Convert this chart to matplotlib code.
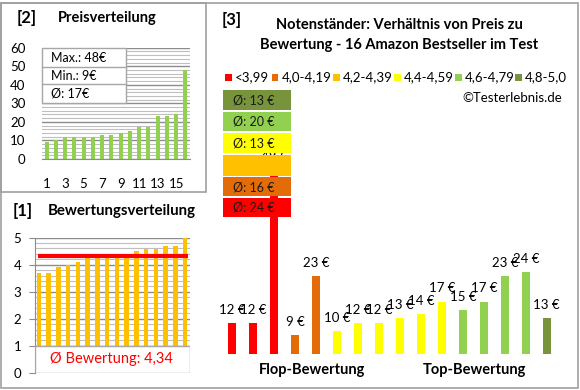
import matplotlib.pyplot as plt
from matplotlib.patches import Rectangle
import numpy as np

plt.rcParams['font.family'] = ['Lato', 'DejaVu Sans']

W, H = 580, 390

# panel [2] - sorted prices
prices_sorted = [9, 10, 12, 12, 12, 12, 13, 13, 14, 15, 17, 17, 23, 23, 24, 48]
price_stats = ['Max.: 48€', 'Min.: 9€', 'Ø: 17€']

# panel [1] - sorted ratings
ratings_sorted = [3.7, 3.7, 3.9, 4.0, 4.1, 4.3, 4.3, 4.3, 4.3, 4.3, 4.5, 4.6, 4.6, 4.7, 4.7, 5.0]
rating_mean = 4.34

# panel [3] - prices ordered flop -> top
prices = [12, 12, 48, 9, 23, 10, 12, 12, 13, 14, 17, 15, 17, 23, 24, 13]
groups = [0, 0, 0, 1, 1, 3, 3, 3, 3, 3, 3, 4, 4, 4, 4, 5]
group_names = ['<3,99', '4,0-4,19', '4,2-4,39', '4,4-4,59', '4,6-4,79', '4,8-5,0']
group_colors = ['#FF0000', '#E36C09', '#FFC000', '#FFFF00', '#92D050', '#77933C']
group_avg = ['Ø: 24 €', 'Ø: 16 €', '', 'Ø: 13 €', 'Ø: 20 €', 'Ø: 13 €']


def px(x0, y0, x1, y1):
    return [x0 / W, 1 - y1 / H, (x1 - x0) / W, (y1 - y0) / H]


def ftext(x, y, s, **kw):
    fig.text(x / W, 1 - y / H, s, **kw)


def frect(x0, y0, x1, y1, **kw):
    r = Rectangle((x0 / W, 1 - y1 / H), (x1 - x0) / W, (y1 - y0) / H,
                  transform=fig.transFigure, **kw)
    fig.add_artist(r)


fig = plt.figure(figsize=(5.8, 3.9), dpi=100)

# panel frames
border = '#A0A0A0'
frect(1, 3, 578, 388, fill=False, edgecolor=border, lw=1.2, zorder=10)
frect(1, 3, 206, 192, fill=False, edgecolor=border, lw=1.2, zorder=10)

# ---------- [2] Preisverteilung ----------
ax2 = fig.add_axes(px(42, 47.7, 190, 159))
x = np.arange(1, 17)
ax2.bar(x, prices_sorted, width=0.45, color='#92D050', zorder=3)
ax2.set_xlim(0.5, 16.5)
ax2.set_ylim(0, 60)
ax2.set_yticks(range(0, 61, 10))
ax2.set_yticks(range(0, 61, 2), minor=True)
ax2.set_xticks(range(1, 17, 2))
ax2.grid(axis='y', which='major', color='#8C8C8C', lw=1.0, zorder=1)
ax2.grid(axis='y', which='minor', color='#BFBFBF', lw=0.8, zorder=1)
ax2.tick_params(axis='both', which='both', length=0, labelsize=9.5)
ax2.tick_params(axis='y', pad=12)
ax2.tick_params(axis='x', pad=14)
for s in ['top', 'right', 'left']:
    ax2.spines[s].set_visible(False)
ax2.spines['bottom'].set_color('#8C8C8C')

# stats box
frect(42, 48, 126, 103, facecolor='white', edgecolor='#A6A6A6', lw=1, zorder=5)
for yy in [67, 84]:
    fig.add_artist(plt.Line2D([42 / W, 126 / W], [1 - yy / H, 1 - yy / H],
                              color='#A6A6A6', lw=1, zorder=6))
for s, yy in zip(price_stats, [57.5, 75.5, 93.5]):
    ftext(51, yy, s, fontsize=9, va='center', ha='left', zorder=7)

ftext(17, 18, '[2]', fontsize=12, fontweight='bold', va='center')
ftext(58, 18, 'Preisverteilung', fontsize=10.5, fontweight='bold', va='center')

# ---------- [1] Bewertungsverteilung ----------
ax1 = fig.add_axes(px(35, 237.7, 190, 372.7))
ax1.bar(x, ratings_sorted, width=0.45, color='#FFC000', zorder=3)
ax1.plot([0.95, 16.25], [rating_mean, rating_mean], color='#FF0000', lw=3, zorder=4,
         solid_capstyle='butt')
ax1.set_xlim(0.6, 16.5)
ax1.set_ylim(0, 5)
ax1.set_yticks(range(0, 6))
ax1.set_yticks(np.arange(0, 5.01, 0.2), minor=True)
ax1.set_xticks([])
ax1.grid(axis='y', which='major', color='#8C8C8C', lw=1.0, zorder=1)
ax1.grid(axis='y', which='minor', color='#BFBFBF', lw=0.8, zorder=1)
ax1.tick_params(axis='y', which='major', length=4, color='#8C8C8C', labelsize=9.5, pad=6)
ax1.tick_params(axis='y', which='minor', length=0)
for s in ['top', 'right', 'bottom']:
    ax1.spines[s].set_visible(False)
ax1.spines['left'].set_color('#8C8C8C')
ax1.add_patch(Rectangle((0.6, 0), 15.9, 1, facecolor='white', edgecolor='#A6A6A6',
                        lw=1, zorder=5))
ax1.text(8.4, 0.5, 'Ø Bewertung: 4,34', color='#FF0000', fontsize=10.5,
         ha='center', va='center', zorder=6)

ftext(13, 211, '[1]', fontsize=12, fontweight='bold', va='center')
ftext(48, 211, 'Bewertungsverteilung', fontsize=10.8, fontweight='bold', va='center')

# ---------- [3] Preis zu Bewertung ----------
ax3 = fig.add_axes(px(221.5, 150, 557.2, 354))
cols = [group_colors[g] for g in groups]
ax3.bar(x, prices, width=0.38, color=cols, zorder=3)
ax3.set_xlim(0.5, 16.5)
ax3.set_ylim(4.63, 52.7)
ax3.axis('off')
for xi, p in zip(x, prices):
    ax3.annotate(f'{p} €', (xi, p), xytext=(0, 9.5), textcoords='offset points',
                 ha='center', va='center', fontsize=9.5, annotation_clip=False)

ftext(222, 20, '[3]', fontsize=12, fontweight='bold', va='center')
ftext(399, 25, 'Notenständer: Verhältnis von Preis zu', fontsize=10.5,
      fontweight='bold', ha='center', va='center')
ftext(399, 45, 'Bewertung - 16 Amazon Bestseller im Test', fontsize=10.5,
      fontweight='bold', ha='center', va='center')

# legend
sq_x = [225, 271.7, 333, 394, 455, 515]
for name, c, sx in zip(group_names, group_colors, sq_x):
    frect(sx, 74, sx + 6.7, 80.7, facecolor=c, edgecolor='none', zorder=5)
    ftext(sx + 10, 77.5, name, fontsize=9.5, va='center', ha='left')

ftext(562, 98, '©Testerlebnis.de', fontsize=9.5, va='center', ha='right')

# average boxes
box_rows = [(197.7, 217.3), (177.3, 196), (155, 175.7), (132.7, 152.7), (112, 131), (90, 110)]
for (y0, y1), c, t in zip(box_rows, group_colors, group_avg):
    frect(223, y0, 291, y1, facecolor=c, edgecolor='none', zorder=5)
    ftext(233, (y0 + y1) / 2 + 0.5, t, fontsize=9, va='center', ha='left',
          color='#1A1A1A', zorder=6)

ftext(312, 370, 'Flop-Bewertung', fontsize=10.5, fontweight='bold', ha='center', va='center')
ftext(474, 370, 'Top-Bewertung', fontsize=10.5, fontweight='bold', ha='center', va='center')

fig.savefig('out.png', dpi=100)
